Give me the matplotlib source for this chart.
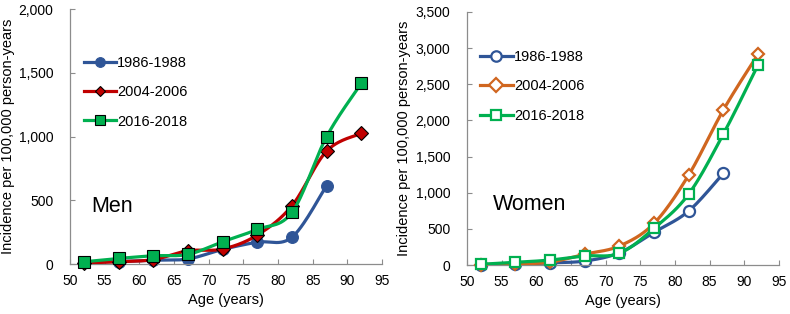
import numpy as np
import matplotlib
matplotlib.use("Agg")
import matplotlib.pyplot as plt
from matplotlib.lines import Line2D
from matplotlib.ticker import FuncFormatter

plt.rcParams['font.family'] = ['Liberation Sans', 'DejaVu Sans']

ages = [52, 57, 62, 67, 72, 77, 82, 87, 92]
periods = ["1986-1988", "2004-2006", "2016-2018"]

men_1986 = [15, 20, 30, 40, 115, 172, 210, 615]
men_2004 = [8, 18, 35, 104, 118, 227, 457, 886, 1025]
men_2016 = [18, 44, 65, 76, 175, 272, 405, 999, 1417]

women_1986 = [5, 12, 30, 55, 170, 453, 748, 1270]
women_2004 = [5, 15, 40, 150, 263, 577, 1247, 2147, 2918]
women_2016 = [10, 37, 69, 125, 162, 508, 983, 1814, 2770]

men_colors = ["#2F5597", "#C00000", "#00B050"]
women_colors = ["#2F5597", "#D0661F", "#00B050"]
markers = ["o", "D", "s"]
msizes = [8.5, 7, 8]
leg_msizes_filled = [7, 5.5, 6.5]
leg_msizes_open = [7.5, 7, 7.5]


def smooth(x, y, n=30):
    x = np.asarray(x, float)
    y = np.asarray(y, float)
    px = np.concatenate([[x[0]], x, [x[-1]]])
    py = np.concatenate([[y[0]], y, [y[-1]]])
    xs, ys = [], []
    t = np.linspace(0, 1, n)
    for i in range(1, len(px) - 2):
        p0 = np.array([px[i], py[i]])
        p3 = np.array([px[i + 1], py[i + 1]])
        c1 = p0 + (p3 - np.array([px[i - 1], py[i - 1]])) / 6.0
        c2 = p3 - (np.array([px[i + 2], py[i + 2]]) - p0) / 6.0
        b = ((1 - t) ** 3)[:, None] * p0 + (3 * (1 - t) ** 2 * t)[:, None] * c1 \
            + (3 * (1 - t) * t ** 2)[:, None] * c2 + (t ** 3)[:, None] * p3
        xs.append(b[:, 0])
        ys.append(b[:, 1])
    return np.concatenate(xs), np.concatenate(ys)


fig = plt.figure(figsize=(7.9, 3.14), dpi=100)
ax1 = fig.add_axes([0.0886, 0.159, 0.395, 0.812])
ax2 = fig.add_axes([0.591, 0.156, 0.395, 0.806])

fmt = FuncFormatter(lambda v, p: f"{int(v):,}")


def draw(ax, series, colors, filled, ymax, label, label_xy, leg_y, ylab_x):
    handles = []
    for k, (vals, c, m, ms) in enumerate(zip(series, colors, markers, msizes)):
        x = ages[:len(vals)]
        sx, sy = smooth(x, vals)
        ax.plot(sx, sy, color=c, lw=2.3, zorder=2 + k, solid_capstyle='round')
        if filled:
            fc, ec, mew = c, "black", 0.8
            if k == 0:
                ec = c
            lms = leg_msizes_filled[k]
        else:
            fc, ec, mew = "white", c, 1.6
            ms = ms - 0.5
            lms = leg_msizes_open[k]
        ax.plot(x, vals, linestyle="none", marker=m, ms=ms,
                mfc=fc, mec=ec, mew=mew, zorder=2 + k, clip_on=False)
        handles.append(Line2D([], [], color=c, lw=2.3, marker=m,
                              ms=lms, mfc=fc, mec=ec, mew=mew))
    ax.set_xlim(50, 95)
    ax.set_ylim(0, ymax)
    ax.set_xticks(np.arange(50, 96, 5))
    ax.set_yticks(np.arange(0, ymax + 1, 500))
    ax.yaxis.set_major_formatter(fmt)
    for s in ["top", "right"]:
        ax.spines[s].set_visible(False)
    for s in ["left", "bottom"]:
        ax.spines[s].set_color("#8c8c8c")
        ax.spines[s].set_linewidth(0.9)
    ax.tick_params(direction="in", length=3.5, color="#8c8c8c", labelsize=10)
    ax.tick_params(axis="y", pad=12)
    ax.tick_params(axis="x", pad=7)
    ax.set_xlabel("Age (years)", fontsize=10.5)
    ax.set_ylabel("Incidence per 100,000 person-years", fontsize=10.5)
    ax.yaxis.set_label_coords(ylab_x, 0.5)
    ax.xaxis.set_label_coords(0.5, -0.115)
    ax.text(label_xy[0], label_xy[1], label, fontsize=15.5, va="center", ha="left")
    ax.legend(handles, periods, loc="upper left", bbox_to_anchor=(0.02, leg_y),
              frameon=False, fontsize=10.5, handlelength=2.2, handletextpad=0.1,
              labelspacing=1.05, borderpad=0)


draw(ax1, [men_1986, men_2004, men_2016], men_colors, True, 2000, "Men", (53, 455), 0.845, -0.175)
draw(ax2, [women_1986, women_2004, women_2016], women_colors, False, 3500, "Women", (53.8, 830), 0.878, -0.18)

fig.savefig("out.png", dpi=100)
